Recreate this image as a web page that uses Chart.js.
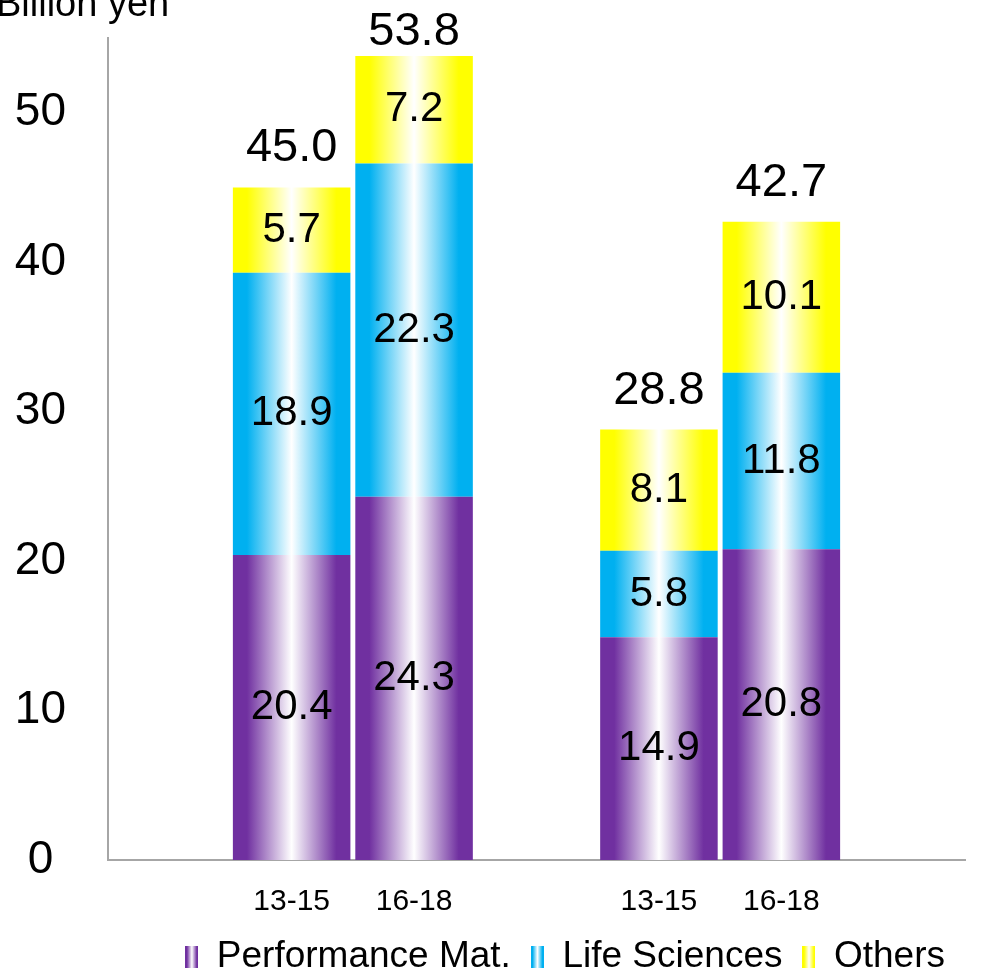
<!DOCTYPE html>
<html>
<head>
<meta charset="utf-8">
<script src="https://cdn.jsdelivr.net/npm/chart.js@4.4.0/dist/chart.umd.min.js"></script>
<style>
  html, body { margin: 0; padding: 0; background: #fff; }
  #wrap { width: 986px; height: 969px; }
</style>
</head>
<body>
<div id="wrap"><canvas id="chart" width="986" height="969"></canvas></div>
<script>
// Data (empty slots keep the two groups apart)
const categories = ['', '13-15', '16-18', '', '13-15', '16-18', ''];
const performanceMat = [null, 20.4, 24.3, null, 14.9, 20.8, null];
const lifeSciences = [null, 18.9, 22.3, null, 5.8, 11.8, null];
const others = [null, 5.7, 7.2, null, 8.1, 10.1, null];
const totals = [null, 45.0, 53.8, null, 28.8, 42.7, null];
const seriesNames = ['Performance Mat.', 'Life Sciences', 'Others'];
const seriesColors = ['#7030A0', '#00B0F0', '#FFFF00'];
const yTicks = [0, 10, 20, 30, 40, 50];

const BAR_PCT = 0.96;

function addStops(g, color) {
    g.addColorStop(0, color);
    g.addColorStop(0.12, color);
    g.addColorStop(0.5, '#ffffff');
    g.addColorStop(0.88, color);
    g.addColorStop(1, color);
    return g;
}

// horizontal gradient across each bar
function barFill(color) {
    return function(ctx) {
        const chart = ctx.chart;
        const xs = chart.scales.x;
        if (!xs || ctx.type !== 'data') return color;
        const cx = xs.getPixelForValue(ctx.dataIndex);
        const w = xs.width / categories.length * BAR_PCT;
        const g = chart.ctx.createLinearGradient(cx - w / 2, 0, cx + w / 2, 0);
        return addStops(g, color);
    };
}

function legendSwatch(color) {
    const c = document.createElement('canvas');
    c.width = 13;
    c.height = 22;
    const cctx = c.getContext('2d');
    cctx.fillStyle = addStops(cctx.createLinearGradient(0, 0, 13, 0), color);
    cctx.fillRect(0, 0, 13, 22);
    return c;
}

// segment values, totals and the unit text
const labelPlugin = {
    id: 'labelPlugin',
    afterDatasetsDraw(chart) {
        const ctx = chart.ctx;
        ctx.save();
        ctx.fillStyle = '#000';
        ctx.textAlign = 'center';
        ctx.textBaseline = 'middle';
        ctx.font = '42px "Liberation Sans", Arial, sans-serif';
        chart.data.datasets.forEach((ds, i) => {
            const meta = chart.getDatasetMeta(i);
            meta.data.forEach((bar, j) => {
                const v = ds.data[j];
                if (v == null) return;
                ctx.fillText(v.toFixed(1), bar.x, (bar.y + bar.base) / 2);
            });
        });
        const topMeta = chart.getDatasetMeta(chart.data.datasets.length - 1);
        ctx.font = '47px "Liberation Sans", Arial, sans-serif';
        topMeta.data.forEach((bar, j) => {
            if (totals[j] == null) return;
            // keep the tallest total inside the canvas
            ctx.fillText(totals[j].toFixed(1), bar.x, Math.max(bar.y - 39, 32));
        });
        ctx.textAlign = 'left';
        ctx.font = '38px "Liberation Sans", Arial, sans-serif';
        ctx.fillText('Billion yen', -4, 6);
        ctx.restore();
    }
};

const datasets = [performanceMat, lifeSciences, others].map((d, i) => ({
    label: seriesNames[i],
    data: d,
    backgroundColor: barFill(seriesColors[i]),
    pointStyle: legendSwatch(seriesColors[i]),
    borderWidth: 0,
    barPercentage: BAR_PCT,
    categoryPercentage: 1.0
}));

new Chart(document.getElementById('chart'), {
    type: 'bar',
    data: { labels: categories, datasets: datasets },
    plugins: [labelPlugin],
    options: {
        responsive: false,
        animation: false,
        layout: { padding: { top: 38, right: 21, left: 0, bottom: -16 } },
        scales: {
            x: {
                stacked: true,
                grid: { display: false, drawTicks: false },
                border: { display: true, color: '#a6a6a6', width: 2 },
                ticks: {
                    color: '#000',
                    padding: 24,
                    font: { family: '"Liberation Sans", Arial, sans-serif', size: 30 }
                },
                afterFit(scale) { scale.height = 58; }
            },
            y: {
                stacked: true,
                min: 0,
                max: 55,
                grid: { display: false, drawTicks: false },
                border: { display: true, color: '#a6a6a6', width: 2 },
                afterBuildTicks(scale) {
                    scale.ticks = yTicks.map(v => ({ value: v }));
                },
                ticks: {
                    color: '#000',
                    padding: 42,
                    crossAlign: 'center',
                    font: { family: '"Liberation Sans", Arial, sans-serif', size: 46 }
                },
                afterFit(scale) {
                    scale.width = 108;
                    scale.paddingTop = 0;
                    scale.paddingBottom = 0;
                }
            }
        },
        plugins: {
            tooltip: { enabled: false },
            legend: {
                position: 'bottom',
                fullSize: false,
                align: 'end',
                labels: {
                    usePointStyle: true,
                    pointStyleWidth: 13,
                    color: '#000',
                    padding: 20,
                    font: { family: '"Liberation Sans", Arial, sans-serif', size: 37 }
                }
            }
        }
    }
});
</script>
</body>
</html>
